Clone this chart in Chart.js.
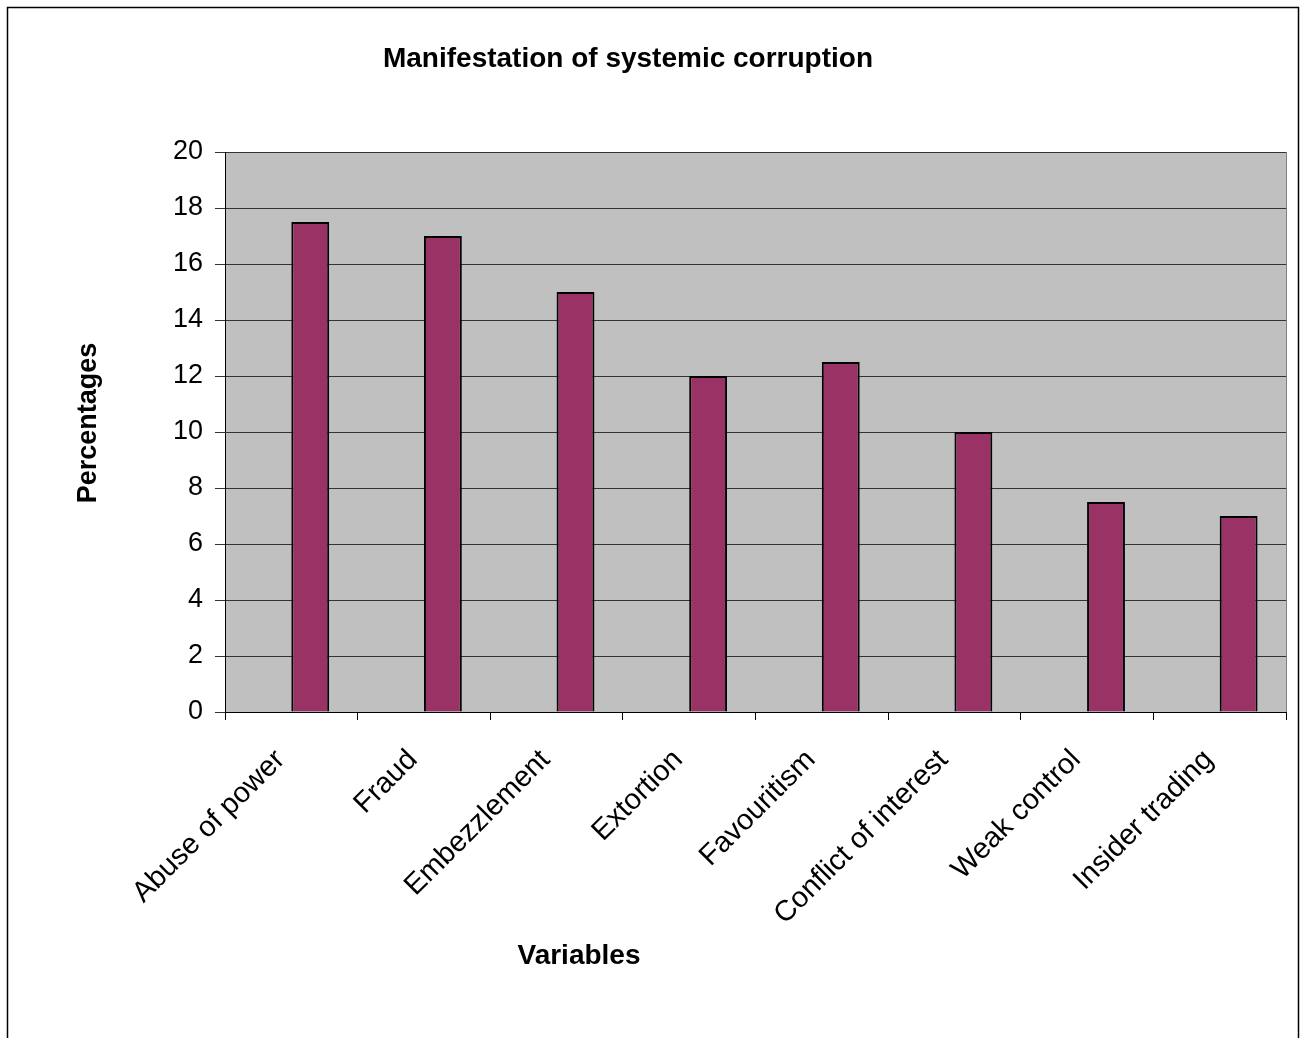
<!DOCTYPE html>
<html>
<head>
<meta charset="utf-8">
<script src="https://cdn.jsdelivr.net/npm/chart.js@4/dist/chart.umd.min.js"></script>
<style>
html,body{margin:0;padding:0;background:#fff;}
canvas{display:block;}
</style>
</head>
<body>
<canvas id="c" width="1306" height="1038"></canvas>
<script>
const chartTitle = 'Manifestation of systemic corruption';
const xAxisTitle = 'Variables';
const yAxisTitle = 'Percentages';
const categories = ['Abuse of power','Fraud','Embezzlement','Extortion','Favouritism','Conflict of interest','Weak control','Insider trading'];
const blankSeries = [null,null,null,null,null,null,null,null];
const percentages = [17.5,17,15,12,12.5,10,7.5,7];
const yMin = 0, yMax = 20, yStep = 2;

const FONT = "'Liberation Sans', Arial, Helvetica, sans-serif";

const decor = {
  id: 'decor',
  beforeDraw(chart) {
    const ctx = chart.ctx, a = chart.chartArea;
    ctx.save();
    ctx.fillStyle = '#ffffff';
    ctx.fillRect(0, 0, chart.width, chart.height);
    ctx.fillStyle = '#C0C0C0';
    ctx.fillRect(a.left, a.top, a.right - a.left, a.bottom - a.top);
    ctx.strokeStyle = '#000000';
    ctx.lineWidth = 1.5;
    ctx.strokeRect(7.5, 7.5, chart.width - 15, chart.height + 20);
    ctx.restore();
  },
  afterDraw(chart) {
    const ctx = chart.ctx, a = chart.chartArea;
    ctx.save();
    ctx.strokeStyle = '#808080';
    ctx.lineWidth = 1;
    ctx.beginPath();
    ctx.moveTo(Math.round(a.right) + 0.5, a.top);
    ctx.lineTo(Math.round(a.right) + 0.5, a.bottom);
    ctx.stroke();
    ctx.fillStyle = '#000';
    ctx.textAlign = 'center';
    ctx.textBaseline = 'middle';
    ctx.font = 'bold 28px ' + FONT;
    ctx.fillText(chartTitle, 628, 59);
    ctx.font = 'bold 28px ' + FONT;
    ctx.fillText(xAxisTitle, 579, 956);
    ctx.save();
    ctx.translate(89, 423);
    ctx.rotate(-Math.PI / 2);
    ctx.font = 'bold 27px ' + FONT;
    ctx.fillText(yAxisTitle, 0, 0);
    ctx.restore();
    ctx.restore();
  }
};

new Chart(document.getElementById('c'), {
  type: 'bar',
  data: {
    labels: categories,
    datasets: [
      { label: 'Series 1', data: blankSeries, backgroundColor: '#9999FF', borderColor: '#000', borderWidth: 2 },
      { label: 'Series 2', data: percentages, backgroundColor: '#993366', borderColor: '#000', borderWidth: 2 }
    ]
  },
  options: {
    responsive: false,
    animation: false,
    devicePixelRatio: 1,
    layout: { padding: { left: 0, right: 20, top: 152, bottom: 0 } },
    datasets: { bar: { categoryPercentage: 2 / 3.5, barPercentage: 1 } },
    plugins: {
      legend: { display: false },
      tooltip: { enabled: false },
      title: { display: false }
    },
    scales: {
      x: {
        offset: true,
        grid: { offset: true, drawOnChartArea: false, drawTicks: true, tickLength: 8, color: '#000' },
        border: { display: true, color: '#000', width: 1 },
        ticks: { minRotation: 45, maxRotation: 45, autoSkip: false, color: '#000', padding: 23, labelOffset: -11, font: { family: FONT, size: 29 } },
        afterFit(s) { s.height = 1038 - 712; }
      },
      y: {
        min: yMin, max: yMax,
        ticks: { stepSize: yStep, color: '#000', padding: 12, font: { family: FONT, size: 27 } },
        grid: { color: '#333333', lineWidth: 1, tickLength: 10 },
        border: { display: true, color: '#000', width: 1 },
        title: { display: false, text: yAxisTitle },
        afterFit(s) { s.width = 225; }
      }
    }
  },
  plugins: [decor]
});
</script>
</body>
</html>
